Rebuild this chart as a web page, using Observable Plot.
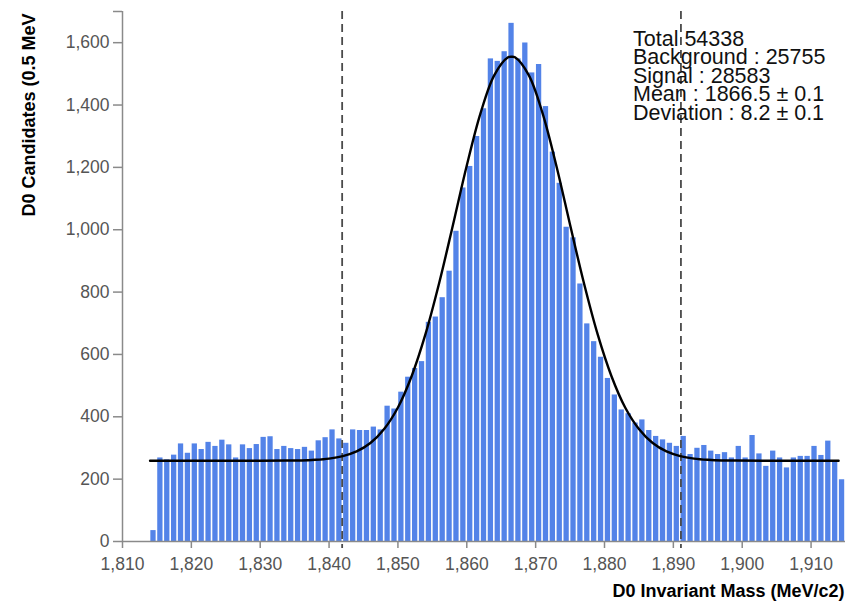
<!DOCTYPE html>
<html>
<head>
<meta charset="utf-8">
<script src="https://cdn.jsdelivr.net/npm/d3@7"></script>
<script src="https://cdn.jsdelivr.net/npm/@observablehq/plot@0.6"></script>
<style>
  html, body { margin: 0; padding: 0; background: #fff; }
  #chart svg { display: block; }
</style>
</head>
<body>
<div id="chart"></div>
<script>
// D0 candidate counts, one bin per MeV, first bin starting at 1814 MeV
const binStart = 1814;
const binWidth = 1;
const counts = [
  35, 268, 262, 277, 313, 283, 313, 295, 318, 305,
  325, 310, 268, 310, 298, 311, 334, 336, 295, 305,
  298, 295, 302, 290, 323, 333, 358, 329, 315, 358,
  356, 356, 367, 358, 434, 425, 479, 527, 555, 577,
  703, 720, 782, 867, 995, 1134, 1203, 1299, 1388, 1548,
  1540, 1571, 1662, 1548, 1599, 1503, 1530, 1395, 1249, 1149,
  1008, 974, 826, 698, 641, 591, 523, 470, 422, 410,
  380, 390, 356, 337, 326, 315, 305, 337, 279, 299,
  308, 290, 279, 285, 268, 305, 268, 340, 281, 241,
  290, 268, 236, 268, 273, 273, 305, 276, 322, 258,
  198
];

// Fitted signal + background curve, sampled along the mass axis
const fitMass = [
  1814, 1830, 1834, 1836, 1838, 1840, 1842, 1844, 1846, 1848,
  1850, 1852, 1854, 1856, 1858, 1860, 1862, 1864, 1866, 1866.5,
  1867, 1869, 1871, 1873, 1875, 1877, 1879, 1881, 1883, 1885,
  1887, 1889, 1891, 1893, 1895, 1897, 1899, 1903, 1914
];
const fitCount = [
  259, 259, 260, 260, 262, 266, 274, 289, 316, 361,
  430, 531, 665, 830, 1016, 1206, 1374, 1496, 1553, 1555,
  1553, 1496, 1374, 1206, 1016, 830, 665, 531, 430, 361,
  316, 289, 274, 266, 262, 260, 260, 259, 259
];

// Signal window edges: mean ± 3 deviations
const windowEdges = [1841.9, 1891.1];

const xDomain = [1810, 1915];
const yDomain = [0, 1700];
const xTicks = [1810, 1820, 1830, 1840, 1850, 1860, 1870, 1880, 1890, 1900, 1910];
const yTicks = [0, 200, 400, 600, 800, 1000, 1200, 1400, 1600];

const statLines = [
  "Total 54338",
  "Background : 25755",
  "Signal : 28583",
  "Mean : 1866.5 ± 0.1",
  "Deviation : 8.2 ± 0.1"
];
const xTitle = "D0 Invariant Mass (MeV/c2)";
const yTitle = "D0 Candidates (0.5 MeV";

const bins = counts.map((c, i) => ({
  x1: binStart + i * binWidth,
  x2: binStart + (i + 1) * binWidth,
  count: c
}));
const fit = fitMass.map((m, i) => ({mass: m, count: fitCount[i]}));

const comma = d3.format(",");
const axisColor = "#8a8a8a";
const labelColor = "#555";

const chart = Plot.plot({
  width: 847,
  height: 601,
  marginTop: 11,
  marginBottom: 60,
  marginLeft: 122,
  marginRight: 2,
  style: {fontFamily: "'Liberation Sans', Arial, Helvetica, sans-serif", background: "#fff"},
  x: {domain: xDomain},
  y: {domain: yDomain},
  marks: [
    Plot.rectY(bins, {x1: "x1", x2: "x2", y: "count", fill: "#5383e8", insetLeft: 0.8, insetRight: 0.8}),
    Plot.ruleX(windowEdges, {stroke: "#4a4a4a", strokeWidth: 1.8, strokeDasharray: "8,5", insetBottom: -7}),
    Plot.line(fit, {x: "mass", y: "count", curve: "catmull-rom", stroke: "#000", strokeWidth: 2.4}),
    Plot.ruleX([xDomain[0]], {stroke: axisColor, strokeWidth: 1.5}),
    Plot.ruleY([yDomain[0]], {stroke: axisColor, strokeWidth: 1.5}),
    Plot.axisX({
      ticks: xTicks, tickFormat: comma, tickSize: 7, tickPadding: 9.5,
      fontSize: 17.5, stroke: axisColor, strokeWidth: 1.5, fill: labelColor, label: null
    }),
    Plot.axisY({
      ticks: [...yTicks, yDomain[1]],
      tickFormat: d => (d === yDomain[1] ? "" : comma(d)),
      tickSize: 9, tickPadding: 4,
      fontSize: 17.5, stroke: axisColor, strokeWidth: 1.5, fill: labelColor, label: null
    }),
    Plot.text([statLines.join("\n")], {
      text: d => d, frameAnchor: "top-right", textAnchor: "start", lineAnchor: "top",
      dx: -212.5, dy: 21, fontSize: 21.5, lineHeight: 0.865, fill: "#111"
    }),
    Plot.text([xTitle], {
      text: d => d, frameAnchor: "bottom-right", textAnchor: "end", lineAnchor: "bottom",
      dx: -1, dy: 55, fontSize: 18, fontWeight: "bold", fill: "#000"
    }),
    Plot.text([yTitle], {
      text: d => d, frameAnchor: "top-left", rotate: -90, textAnchor: "end", lineAnchor: "bottom",
      dx: -88, dy: 2, fontSize: 18, fontWeight: "bold", fill: "#000"
    })
  ]
});

document.getElementById("chart").appendChild(chart);
</script>
</body>
</html>
